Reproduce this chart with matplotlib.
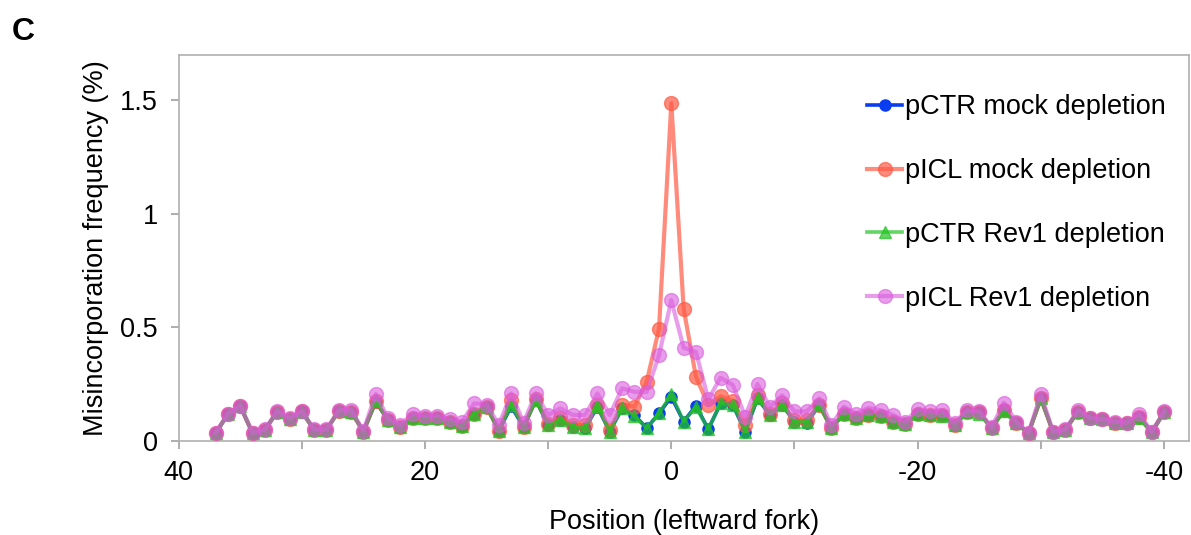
import numpy as np
import matplotlib
matplotlib.use("Agg")
import matplotlib.pyplot as plt
from matplotlib.ticker import MultipleLocator

plt.rcParams['font.family'] = ['Liberation Sans', 'DejaVu Sans']

positions = list(range(37, -41, -1))

pctr_mock = [0.034, 0.117, 0.153, 0.034, 0.048, 0.129, 0.095, 0.132, 0.048, 0.048,
             0.133, 0.129, 0.041, 0.172, 0.092, 0.063, 0.100, 0.100, 0.100, 0.082,
             0.066, 0.120, 0.150, 0.045, 0.153, 0.060, 0.180, 0.070, 0.092, 0.063,
             0.056, 0.150, 0.041, 0.143, 0.114, 0.056, 0.121, 0.194, 0.085, 0.155,
             0.051, 0.165, 0.158, 0.041, 0.187, 0.114, 0.158, 0.085, 0.078, 0.158,
             0.056, 0.120, 0.100, 0.115, 0.110, 0.085, 0.074, 0.120, 0.114, 0.114,
             0.070, 0.129, 0.126, 0.056, 0.136, 0.078, 0.034, 0.187, 0.038, 0.048,
             0.129, 0.100, 0.095, 0.080, 0.080, 0.107, 0.037, 0.126]

picl_mock = [0.034, 0.117, 0.153, 0.034, 0.048, 0.129, 0.095, 0.130, 0.048, 0.048,
             0.133, 0.129, 0.041, 0.175, 0.092, 0.063, 0.100, 0.100, 0.100, 0.082,
             0.066, 0.120, 0.150, 0.045, 0.180, 0.060, 0.185, 0.075, 0.100, 0.070,
             0.070, 0.160, 0.048, 0.160, 0.150, 0.260, 0.494, 1.488, 0.582, 0.282,
             0.158, 0.197, 0.177, 0.070, 0.200, 0.120, 0.165, 0.090, 0.090, 0.160,
             0.056, 0.120, 0.100, 0.115, 0.110, 0.085, 0.074, 0.120, 0.114, 0.114,
             0.070, 0.129, 0.126, 0.056, 0.136, 0.078, 0.034, 0.187, 0.038, 0.048,
             0.129, 0.100, 0.095, 0.080, 0.080, 0.107, 0.037, 0.126]

pctr_rev1 = [0.034, 0.117, 0.153, 0.034, 0.048, 0.129, 0.095, 0.125, 0.048, 0.048,
             0.133, 0.129, 0.041, 0.178, 0.092, 0.063, 0.100, 0.100, 0.100, 0.082,
             0.066, 0.120, 0.150, 0.045, 0.160, 0.060, 0.180, 0.070, 0.092, 0.063,
             0.056, 0.155, 0.041, 0.143, 0.110, 0.056, 0.121, 0.205, 0.085, 0.150,
             0.051, 0.165, 0.158, 0.041, 0.190, 0.114, 0.158, 0.085, 0.085, 0.158,
             0.056, 0.120, 0.100, 0.115, 0.110, 0.085, 0.074, 0.120, 0.114, 0.110,
             0.070, 0.125, 0.120, 0.056, 0.130, 0.078, 0.034, 0.187, 0.038, 0.048,
             0.129, 0.100, 0.095, 0.080, 0.080, 0.100, 0.037, 0.126]

picl_rev1 = [0.036, 0.120, 0.155, 0.036, 0.050, 0.130, 0.100, 0.130, 0.050, 0.050,
             0.135, 0.135, 0.045, 0.206, 0.100, 0.070, 0.120, 0.110, 0.110, 0.095,
             0.085, 0.165, 0.160, 0.070, 0.209, 0.080, 0.209, 0.114, 0.143, 0.114,
             0.114, 0.209, 0.114, 0.231, 0.216, 0.216, 0.377, 0.620, 0.410, 0.392,
             0.183, 0.278, 0.246, 0.107, 0.250, 0.150, 0.200, 0.130, 0.130, 0.187,
             0.070, 0.150, 0.120, 0.145, 0.135, 0.114, 0.085, 0.140, 0.130, 0.135,
             0.080, 0.135, 0.130, 0.060, 0.168, 0.085, 0.036, 0.206, 0.040, 0.050,
             0.135, 0.100, 0.095, 0.085, 0.080, 0.120, 0.040, 0.130]

labels = ['pCTR mock depletion', 'pICL mock depletion',
          'pCTR Rev1 depletion', 'pICL Rev1 depletion']

fig = plt.figure(figsize=(11.91, 5.35), dpi=100)
ax = fig.add_axes([0.150, 0.176, 0.848, 0.721])

ax.plot(positions, pctr_mock, color='#0a3cf0', marker='o', lw=2.6, ms=8,
        label=labels[0], zorder=3)
ax.plot(positions, picl_mock, color='#ff5a45', marker='o', lw=3, ms=10,
        alpha=0.7, label=labels[1], zorder=4)
ax.plot(positions, pctr_rev1, color='#22c422', marker='^', lw=2.6, ms=8,
        alpha=0.7, label=labels[2], zorder=5)
ax.plot(positions, picl_rev1, color='#d95cdc', marker='o', lw=3, ms=10,
        alpha=0.6, label=labels[3], zorder=6)

ax.set_xlim(40, -42)
ax.set_ylim(0, 1.7)
ax.xaxis.set_minor_locator(MultipleLocator(10))
ax.set_yticks([0, 0.5, 1, 1.5])
ax.set_yticklabels(['0', '0.5', '1', '1.5'])
ax.set_xticks([40, 20, 0, -20, -40])
ax.set_xticklabels(['40', '20', '0', '-20', '-40'])

for s in ax.spines.values():
    s.set_color('#b0b0b0')
    s.set_linewidth(1.2)
ax.tick_params(axis='both', which='both', colors='#a0a0a0', length=6,
               width=1.2, labelcolor='black', labelsize=19.5)
ax.tick_params(axis='x', pad=8)
ax.tick_params(axis='y', pad=9)

ax.set_xlabel('Position (leftward fork)', fontsize=19.5, labelpad=16)
ax.set_ylabel('Misincorporation frequency (%)', fontsize=19.5, labelpad=8)

leg = ax.legend(loc='upper right', frameon=False, fontsize=19.5,
                labelspacing=1.4, handlelength=1.3, handletextpad=0.1,
                borderaxespad=0.0, bbox_to_anchor=(0.988, 0.927))

fig.text(0.01, 0.925, 'C', fontsize=23, fontweight='bold')

fig.savefig('out.png', dpi=100)
